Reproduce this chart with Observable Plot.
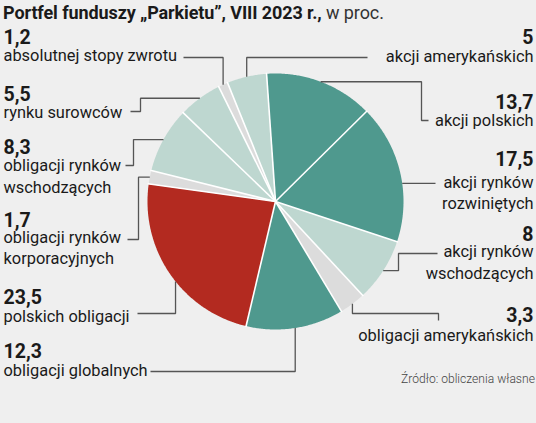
<!DOCTYPE html>
<html><head><meta charset="utf-8">
<script src="https://cdn.jsdelivr.net/npm/d3@7"></script>
<script src="https://cdn.jsdelivr.net/npm/@observablehq/plot@0.6"></script>
<style>
html,body{margin:0;padding:0;background:#efefef;}
#wrap{position:relative;width:536px;height:423px;overflow:hidden;background:#efefef;font-family:Roboto,sans-serif;color:#1a1a1a;}
#title{height:24px;line-height:24px;padding-left:3px;padding-top:1px;box-sizing:border-box;font-size:18px;white-space:nowrap;letter-spacing:-0.1px;}
#title b{font-weight:700;}
#title span{font-weight:400;color:#333;}
#caption{position:absolute;right:1px;top:371px;font-size:13px;font-weight:300;color:#444;white-space:nowrap;transform:scaleX(0.93);transform-origin:right center;}
svg{display:block;}
</style></head>
<body>
<div id="wrap">
  <div id="title"><b>Portfel funduszy „Parkietu”, VIII 2023 r.,</b><span> w proc.</span></div>
  <div id="chart"></div>
  <div id="caption">Źródło: obliczenia własne</div>
</div>
<script>
// ---- data (clockwise from the top) ----
const categories = ["akcji polskich","akcji rynków rozwiniętych","akcji rynków wschodzących","obligacji amerykańskich","obligacji globalnych","polskich obligacji","obligacji rynków korporacyjnych","obligacji rynków wschodzących","rynku surowców","absolutnej stopy zwrotu","akcji amerykańskich"];
const values = [13.7, 17.5, 8, 3.3, 12.3, 23.5, 1.7, 8.3, 5.5, 1.2, 5];
const valueLabels = ["13,7","17,5","8","3,3","12,3","23,5","1,7","8,3","5,5","1,2","5"];
const nameLines = [["akcji polskich"],["akcji rynków","rozwiniętych"],["akcji rynków","wschodzących"],["obligacji amerykańskich"],["obligacji globalnych"],["polskich obligacji"],["obligacji rynków","korporacyjnych"],["obligacji rynków","wschodzących"],["rynku surowców"],["absolutnej stopy zwrotu"],["akcji amerykańskich"]];
const groups = ["dark","dark","light","gray","dark","red","gray","light","light","gray","light"];

// ---- layout ----
const CX = 275, CY = 201, R = 128, START = -4 * Math.PI / 180;
const layout = [
 {side:"right", bv:108, names:[125], at:0.5, leader:{type:"hv", elbowX:421, lineY:120, endX:428}},
 {side:"right", bv:165, names:[187,208], at:0.58, leader:{type:"h", endX:435}},
 {side:"right", bv:240, names:[256,278], at:0.5, leader:{type:"hv", elbowX:398, lineY:253, endX:437}},
 {side:"right", bv:321, names:[340], at:0.5, leader:{type:"vhv", midY:313, endX:438, lineY:320}},
 {side:"left", bv:357, names:[375], at:0.5, leader:{type:"vh", lineY:371, endX:150}},
 {side:"left", bv:303, names:[321], at:0.45, leader:{type:"vh", lineY:313, endX:137}},
 {side:"left", bv:226, names:[242,263], at:0.5, leader:{type:"hv", elbowX:138, lineY:239, endX:127}},
 {side:"left", bv:153, names:[170,192], at:0.5, leader:{type:"hv", elbowX:133, lineY:165, endX:125}},
 {side:"left", bv:100, names:[117], at:0.5, leader:{type:"hv", elbowX:140, lineY:111, endX:130}},
 {side:"left", bv:43, names:[60], at:0.5, leader:{type:"vh", lineY:57, endX:183}},
 {side:"right", bv:43, names:[61], at:0.5, leader:{type:"vh", lineY:57, endX:367}}
];

const arcs = d3.pie().sort(null).value(d => d).startAngle(START).endAngle(START + 2 * Math.PI)(values);
const px = (a, r = R) => CX + r * Math.sin(a);
const py = (a, r = R) => CY - r * Math.cos(a);

// slice polygons
const slicePts = [];
arcs.forEach((a, i) => {
  slicePts.push({i, x: CX, y: CY, g: groups[i]});
  const n = Math.max(2, Math.ceil((a.endAngle - a.startAngle) / (Math.PI / 360)));
  for (let k = 0; k <= n; k++) {
    const t = a.startAngle + (a.endAngle - a.startAngle) * k / n;
    slicePts.push({i, x: px(t), y: py(t), g: groups[i]});
  }
});

// leader lines
const leaderPts = [];
arcs.forEach((a, i) => {
  const L = layout[i], ld = L.leader;
  const t = a.startAngle + (a.endAngle - a.startAngle) * L.at;
  const ax = px(t), ay = py(t);
  let pts;
  if (ld.type === "hv") pts = [[ax, ay], [ld.elbowX, ay], [ld.elbowX, ld.lineY], [ld.endX, ld.lineY]];
  else if (ld.type === "vh") pts = [[ax, ay], [ax, ld.lineY], [ld.endX, ld.lineY]];
  else if (ld.type === "h") pts = [[ax, ay], [ld.endX, ay]];
  else pts = [[ax, ay], [ax, ld.midY], [ld.endX, ld.midY], [ld.endX, ld.lineY]];
  pts.forEach(([x, y]) => leaderPts.push({i, x, y}));
});

// texts
const valueTexts = arcs.map((a, i) => ({side: layout[i].side, y: layout[i].bv, text: valueLabels[i]}));
const nameTexts = [];
arcs.forEach((a, i) => nameLines[i].forEach((s, k) => nameTexts.push({side: layout[i].side, y: layout[i].names[k], text: s})));
const X_LEFT = 3, X_RIGHT = 533;

const chart = Plot.plot({
  width: 536, height: 399,
  margin: 0,
  x: {domain: [0, 536], range: [0, 536], axis: null},
  y: {domain: [24, 423], range: [0, 399], axis: null},
  color: {domain: ["dark","light","gray","red"], range: ["#4f998e","#bed7d0","#dcdcdc","#b32a20"]},
  style: {background: "transparent", fontFamily: "Roboto, sans-serif", color: "#1a1a1a", overflow: "visible"},
  marks: [
    Plot.line(slicePts, {x: "x", y: "y", z: "i", fill: "g", stroke: "none", curve: "linear-closed"}),
    Plot.link(arcs, {x1: () => CX, y1: () => CY, x2: a => px(a.startAngle, R + 1), y2: a => py(a.startAngle, R + 1), stroke: "white", strokeWidth: 1.6}),
    Plot.line(leaderPts, {x: "x", y: "y", z: "i", stroke: "#555", strokeWidth: 1.3, strokeLinecap: "butt", strokeLinejoin: "miter"}),
    Plot.text(valueTexts.filter(d => d.side === "left"), {x: () => X_LEFT, y: "y", text: "text", textAnchor: "start", lineAnchor: "bottom", fontSize: 19.5, fontWeight: "bold", fill: "#1a1a1a"}),
    Plot.text(valueTexts.filter(d => d.side === "right"), {x: () => X_RIGHT, y: "y", text: "text", textAnchor: "end", lineAnchor: "bottom", fontSize: 19.5, fontWeight: "bold", fill: "#1a1a1a"}),
    Plot.text(nameTexts.filter(d => d.side === "left"), {x: () => X_LEFT, y: "y", text: "text", textAnchor: "start", lineAnchor: "bottom", fontSize: 16.4, fill: "#1a1a1a"}),
    Plot.text(nameTexts.filter(d => d.side === "right"), {x: () => X_RIGHT, y: "y", text: "text", textAnchor: "end", lineAnchor: "bottom", fontSize: 16.4, fill: "#1a1a1a"})
  ]
});
document.getElementById("chart").appendChild(chart);
</script>
</body></html>
